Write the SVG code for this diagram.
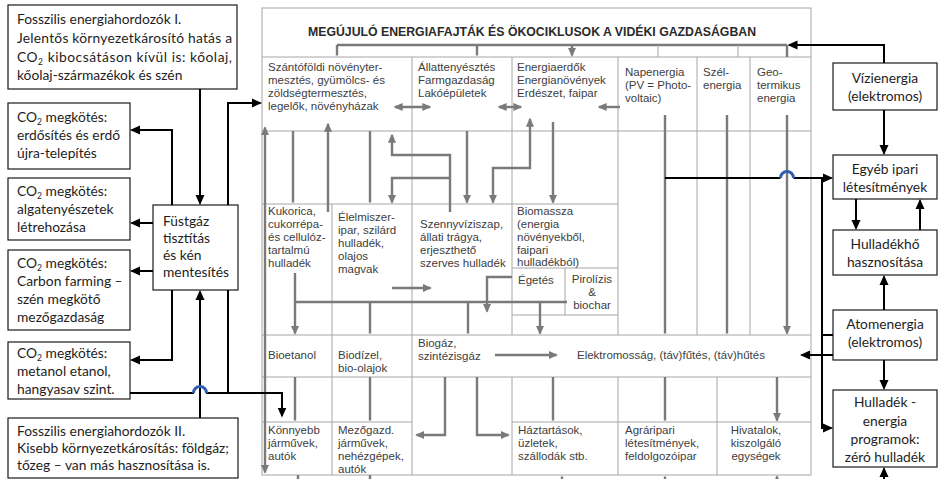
<svg xmlns="http://www.w3.org/2000/svg" width="940" height="479" viewBox="0 0 940 479">
<defs>
<marker id="ak" viewBox="0 0 10 10" refX="8.5" refY="5" markerWidth="10" markerHeight="10" markerUnits="userSpaceOnUse" orient="auto-start-reverse"><path d="M0,0.5 L10,5 L0,9.5 z" fill="#000"/></marker>
<marker id="ag" viewBox="0 0 10 10" refX="8.5" refY="5" markerWidth="9" markerHeight="9" markerUnits="userSpaceOnUse" orient="auto-start-reverse"><path d="M0,0.5 L10,5 L0,9.5 z" fill="#7a7a7a"/></marker>
<style>
.bx{fill:#fff;stroke:#1a1a1a;stroke-width:1.2}
.t{font-family:Lato,"Liberation Sans",sans-serif;font-size:13.8px;fill:#1e1e1e}
.m{text-anchor:middle}
.s{font-size:8.5px}
.a{font-family:"Liberation Sans",Arial,sans-serif;font-size:11.5px;fill:#404040}
.ttl{font-family:"Liberation Sans",Arial,sans-serif;font-size:12px;font-weight:bold;fill:#2a2a2a}
.g{stroke:#a6a6a6;stroke-width:1;fill:none}
.ga{stroke:#7a7a7a;stroke-width:2.4;fill:none;marker-end:url(#ag)}
.gd{stroke:#7a7a7a;stroke-width:2.4;fill:none;marker-start:url(#ag);marker-end:url(#ag)}
.gl{stroke:#7a7a7a;stroke-width:2.4;fill:none}
.k{stroke:#000;stroke-width:2;fill:none;marker-end:url(#ak)}
.kl{stroke:#000;stroke-width:2;fill:none}
.hop{stroke:#2f5fae;stroke-width:3;fill:none}
</style>
</defs>
<rect width="940" height="479" fill="#fff"/>

<!-- TABLE -->
<g id="table">
  <rect class="g" x="262" y="8" width="549" height="467"/>
  <path class="g" d="M262,57H811 M262,131H811 M262,204H618 M512,268H618 M512,315H618 M262,335H811 M262,377H811 M262,422H412 M512,422H811"/>
  <path class="g" d="M412,57V475 M512,57V335 M512,377V475 M332,204V475 M565,268V315 M618,57V335 M618,377V475 M697,57V335 M750,57V335 M717,377V475"/>
  <text class="ttl" x="532" y="36" text-anchor="middle" textLength="448" lengthAdjust="spacingAndGlyphs">MEGÚJULÓ ENERGIAFAJTÁK ÉS ÖKOCIKLUSOK A VIDÉKI GAZDASÁGBAN</text>
</g>

<g id="cell-szanto"><text class="a" x="268" y="71">Szántóföldi növényter-</text><text class="a" x="268" y="84">mesztés, gyümölcs- és</text><text class="a" x="268" y="97">zöldségtermesztés,</text><text class="a" x="268" y="110">legelők, növényházak</text></g>
<g id="cell-allat"><text class="a" x="418" y="71">Állattenyésztés</text><text class="a" x="418" y="84">Farmgazdaság</text><text class="a" x="418" y="97">Lakóépületek</text></g>
<g id="cell-energiaerdo"><text class="a" x="517" y="71">Energiaerdők</text><text class="a" x="517" y="84">Energianövények</text><text class="a" x="517" y="97">Erdészet, faipar</text></g>
<g id="cell-nap"><text class="a" x="625" y="76">Napenergia</text><text class="a" x="625" y="89">(PV = Photo-</text><text class="a" x="625" y="102">voltaic)</text></g>
<g id="cell-szel"><text class="a" x="703" y="76">Szél-</text><text class="a" x="703" y="89">energia</text></g>
<g id="cell-geo"><text class="a" x="757" y="76">Geo-</text><text class="a" x="757" y="89">termikus</text><text class="a" x="757" y="102">energia</text></g>

<g id="cell-kukorica"><text class="a" x="268" y="215">Kukorica,</text><text class="a" x="268" y="228">cukorrépa-</text><text class="a" x="268" y="241">és cellulóz-</text><text class="a" x="268" y="254">tartalmú</text><text class="a" x="268" y="267">hulladék</text></g>
<g id="cell-elelmiszer"><text class="a" x="338" y="221">Élelmiszer-</text><text class="a" x="338" y="234">ipar, szilárd</text><text class="a" x="338" y="247">hulladék,</text><text class="a" x="338" y="260">olajos</text><text class="a" x="338" y="273">magvak</text></g>
<g id="cell-szenny"><text class="a" x="420" y="228">Szennyvíziszap,</text><text class="a" x="420" y="241">állati trágya,</text><text class="a" x="420" y="254">erjeszthető</text><text class="a" x="420" y="267">szerves hulladék</text></g>
<g id="cell-biomassza"><text class="a" x="517" y="215">Biomassza</text><text class="a" x="517" y="228">(energia</text><text class="a" x="517" y="241">növényekből,</text><text class="a" x="517" y="254">faipari</text><text class="a" x="517" y="266">hulladékból)</text></g>
<g id="cell-egetes"><text class="a" x="518" y="284">Égetés</text></g>
<g id="cell-pirolizis"><text class="a m" x="592" y="283">Pirolízis</text><text class="a m" x="592" y="296">&amp;</text><text class="a m" x="592" y="309">biochar</text></g>

<g id="cell-bioetanol"><text class="a" x="268" y="359">Bioetanol</text></g>
<g id="cell-biodizel"><text class="a" x="338" y="359">Biodízel,</text><text class="a" x="338" y="372">bio-olajok</text></g>
<g id="cell-biogaz"><text class="a" x="418" y="347">Biogáz,</text><text class="a" x="418" y="360">szintézisgáz</text></g>
<g id="cell-elektro"><text class="a" x="577" y="359">Elektromosság, (táv)fűtés, (táv)hűtés</text></g>

<g id="cell-konnyebb"><text class="a" x="268" y="434">Könnyebb</text><text class="a" x="268" y="447">járművek,</text><text class="a" x="268" y="460">autók</text></g>
<g id="cell-mezogazd"><text class="a" x="338" y="434">Mezőgazd.</text><text class="a" x="338" y="447">járművek,</text><text class="a" x="338" y="460">nehézgépek,</text><text class="a" x="338" y="473">autók</text></g>
<g id="cell-haztartas"><text class="a" x="518" y="434">Háztartások,</text><text class="a" x="518" y="447">üzletek,</text><text class="a" x="518" y="460">szállodák stb.</text></g>
<g id="cell-agrar"><text class="a" x="625" y="434">Agráripari</text><text class="a" x="625" y="447">létesítmények,</text><text class="a" x="625" y="460">feldolgozóipar</text></g>
<g id="cell-hivatal"><text class="a m" x="756" y="434">Hivatalok,</text><text class="a m" x="756" y="447">kiszolgáló</text><text class="a m" x="756" y="460">egységek</text></g>

<!-- LEFT BOXES -->
<g id="fossil1">
  <rect class="bx" x="8" y="5" width="229" height="84"/>
  <text class="t" x="17" y="24">Fosszilis energiahordozók I.</text>
  <text class="t" x="17" y="43" textLength="215" lengthAdjust="spacing">Jelentős környezetkárosító hatás a</text>
  <text class="t" x="17" y="62" textLength="215" lengthAdjust="spacing">CO<tspan class="s" dy="2.5">2</tspan><tspan dy="-2.5"> kibocsátáson kívül is: kőolaj,</tspan></text>
  <text class="t" x="17" y="80">kőolaj-származékok és szén</text>
</g>
<g id="co2-erdo">
  <rect class="bx" x="8" y="103" width="122" height="66"/>
  <text class="t" x="17" y="122">CO<tspan class="s" dy="2.5">2</tspan><tspan dy="-2.5"> megkötés:</tspan></text>
  <text class="t" x="17" y="140">erdősítés és erdő</text>
  <text class="t" x="17" y="158">újra-telepítés</text>
</g>
<g id="co2-alga">
  <rect class="bx" x="8" y="178" width="122" height="62"/>
  <text class="t" x="17" y="196">CO<tspan class="s" dy="2.5">2</tspan><tspan dy="-2.5"> megkötés:</tspan></text>
  <text class="t" x="17" y="214">algatenyészetek</text>
  <text class="t" x="17" y="232">létrehozása</text>
</g>
<g id="co2-carbon">
  <rect class="bx" x="8" y="250" width="122" height="80"/>
  <text class="t" x="17" y="268">CO<tspan class="s" dy="2.5">2</tspan><tspan dy="-2.5"> megkötés:</tspan></text>
  <text class="t" x="17" y="286">Carbon farming –</text>
  <text class="t" x="17" y="304">szén megkötő</text>
  <text class="t" x="17" y="322">mezőgazdaság</text>
</g>
<g id="co2-metanol">
  <rect class="bx" x="8" y="342" width="122" height="57"/>
  <text class="t" x="17" y="358">CO<tspan class="s" dy="2.5">2</tspan><tspan dy="-2.5"> megkötés:</tspan></text>
  <text class="t" x="17" y="376">metanol etanol,</text>
  <text class="t" x="17" y="394">hangyasav szint.</text>
</g>
<g id="fossil2">
  <rect class="bx" x="8" y="418" width="230" height="60"/>
  <text class="t" x="17" y="436">Fosszilis energiahordozók II.</text>
  <text class="t" x="17" y="453">Kisebb környezetkárosítás: földgáz;</text>
  <text class="t" x="17" y="470">tőzeg – van más hasznosítása is.</text>
</g>
<g id="fustgaz">
  <rect class="bx" x="153" y="205" width="85" height="85"/>
  <text class="t" x="163" y="226">Füstgáz</text>
  <text class="t" x="163" y="243">tisztítás</text>
  <text class="t" x="163" y="260">és kén</text>
  <text class="t" x="163" y="277">mentesítés</text>
</g>

<!-- RIGHT BOXES -->
<g id="vizi"><rect class="bx" x="833" y="63" width="104" height="47"/><text class="t m" x="885" y="83">Vízienergia</text><text class="t m" x="885" y="101">(elektromos)</text></g>
<g id="egyeb"><rect class="bx" x="833" y="155" width="104" height="44"/><text class="t m" x="885" y="174">Egyéb ipari</text><text class="t m" x="885" y="192">létesítmények</text></g>
<g id="hulladekho"><rect class="bx" x="833" y="230" width="104" height="45"/><text class="t m" x="885" y="249">Hulladékhő</text><text class="t m" x="885" y="267">hasznosítása</text></g>
<g id="atom"><rect class="bx" x="833" y="310" width="104" height="50"/><text class="t m" x="885" y="329">Atomenergia</text><text class="t m" x="885" y="347">(elektromos)</text></g>
<g id="hulladek"><rect class="bx" x="833" y="390" width="104" height="77"/><text class="t m" x="885" y="407">Hulladék -</text><text class="t m" x="885" y="426">energia</text><text class="t m" x="885" y="444">programok:</text><text class="t m" x="885" y="462">zéró hulladék</text></g>

<!-- CONNECTORS -->
<g id="connectors">
  <path class="gl" d="M337,45H787" stroke-width="2"/>
  <path class="ga" d="M337,45V55.5 M477,45V55.5 M572,45V55.5"/>
  <path class="g" d="M658,45V57 M738,45V57"/>
  <path class="gl" d="M787,45V57" stroke-width="3"/>
  <path class="gd" d="M395,107H430"/>
  <path class="gd" d="M499,107H521"/>
  <path class="ga" d="M620,107H599"/>
  <path class="ga" d="M328,212V124"/>
  <path class="ga" d="M450,212V155H392V135"/>
  <path class="gd" d="M493,202.5V168H530V119"/>
  <path class="ga" d="M553,122V202.5"/>
  <path class="ga" d="M293,131V202.5 M370,131V202.5 M467,131V202.5"/>
  <path class="ga" d="M450,178H392V202.5"/>
  <path class="ga" d="M665,115V333.5 M727,115V333.5 M787,115V333.5"/>
  <path class="gd" d="M265,127.5V472.5"/>
  <path class="ga" d="M295,273V333.5"/>
  <path class="gl" d="M295,302H567"/>
  <path class="ga" d="M370,302V333.5 M468,302V333.5 M540,302V333.5"/>
  <path class="ga" d="M392,288H430.5"/>
  <path class="ga" d="M512,277H487V311.5"/>
  <path class="ga" d="M495,355H556.5"/>
  <path class="ga" d="M295,377V420.5 M370,377V420.5 M553,377V420.5 M665,377V420.5 M777,377V420.5"/>
  <path class="ga" d="M445,377V435H416.5"/>
  <path class="ga" d="M477,377V435H508.5"/>
  <path class="gl" d="M298,475V479 M370,475V479" stroke-width="1.5"/>
  <path class="ga" d="M562,485V476.5 M665,485V476.5 M777,485V476.5"/>

  <path class="k" d="M200,89V203.5"/>
  <path class="k" d="M172,205V130H131.5"/>
  <path class="k" d="M228,205V103H260.5"/>
  <path class="k" d="M153,223H131.5"/>
  <path class="k" d="M153,271H131.5"/>
  <path class="k" d="M172,290V360H131.5"/>
  <path class="k" d="M200,418V291.5"/>
  <path class="kl" d="M228,290V393"/>
  <path class="kl" d="M130,393H194"/>
  <path class="k" d="M206,393H282V416"/>
  <path class="hop" d="M193.5,393A6.5,6.5 0 0 1 206.5,393"/>

  <path class="k" d="M884,63V45H789"/>
  <path class="k" d="M884,110V153.5"/>
  <path class="k" d="M856,199V228.5"/>
  <path class="k" d="M920,230V200.5"/>
  <path class="k" d="M884,310V276.5"/>
  <path class="k" d="M884,360V388.5"/>
  <path class="k" d="M884,479V468.5"/>
  <path class="kl" d="M665,178H780.5"/>
  <path class="k" d="M793.5,178H831.5"/>
  <path class="hop" d="M780.5,178A6.5,6.5 0 0 1 793.5,178"/>
  <path class="k" d="M822,178V428H831.5"/>
  <path class="kl" d="M822,335H833"/>
  <path class="k" d="M833,355H801.5"/>
</g>
</svg>
